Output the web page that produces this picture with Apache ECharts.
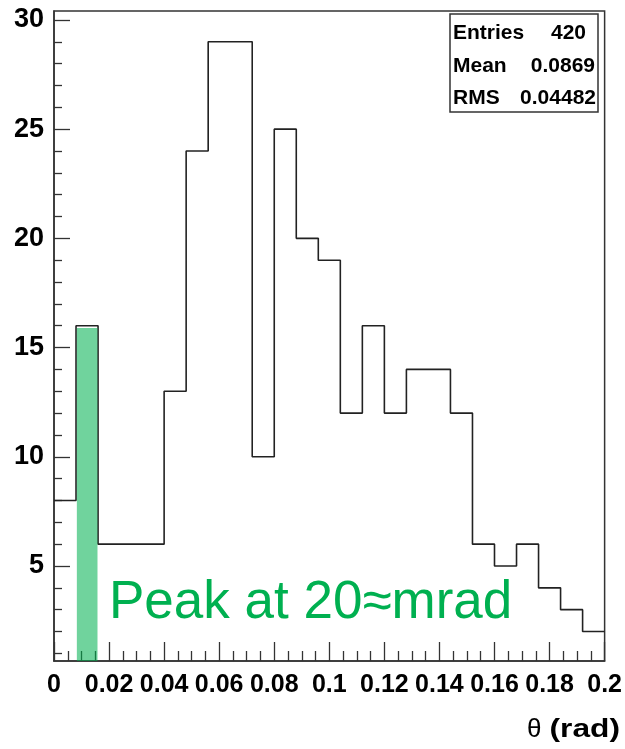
<!DOCTYPE html>
<html>
<head>
<meta charset="utf-8">
<script src="https://cdn.jsdelivr.net/npm/echarts@6/dist/echarts.min.js"></script>
<style>
  html, body { margin: 0; padding: 0; background: #fff; }
  #chart { width: 625px; height: 749px; }
</style>
</head>
<body>
<div id="chart"></div>
<script>
// Histogram of theta: lower bin edges and counts per bin
const binLowEdges = [0.000, 0.008, 0.016, 0.024, 0.032, 0.040, 0.048, 0.056, 0.064, 0.072,
                     0.080, 0.088, 0.096, 0.104, 0.112, 0.120, 0.128, 0.136, 0.144, 0.152,
                     0.160, 0.168, 0.176, 0.184, 0.192];
const histUpperEdge = 0.2;
const counts = [8, 16, 6, 6, 6, 13, 24, 29, 29, 10,
                25, 20, 19, 12, 16, 12, 14, 14, 12, 6,
                5, 6, 4, 3, 2];

// Axis ranges and ticks
const xRange = [0, 0.2];
const yRange = [0.65, 30.41];
const xTickValues = [0, 0.02, 0.04, 0.06, 0.08, 0.1, 0.12, 0.14, 0.16, 0.18, 0.2];
const xTickLabels = ['0', '0.02', '0.04', '0.06', '0.08', '0.1', '0.12', '0.14', '0.16', '0.18', '0.2'];
const yTickValues = [5, 10, 15, 20, 25, 30];
const yTickLabels = ['5', '10', '15', '20', '25', '30'];
const yMinorTickValues = [1, 2, 3, 4, 6, 7, 8, 9, 11, 12, 13, 14, 16, 17, 18, 19,
                          21, 22, 23, 24, 26, 27, 28, 29];

// Highlighted peak band: [x from, x to, height]
const peakBand = [[0.0083, 0.0158, 15.9]];
const peakText = 'Peak at 20\u2248mrad';

// Statistics box rows
const statNames = ['Entries', 'Mean', 'RMS'];
const statValues = ['420', '0.0869', '0.04482'];

const FONT = '"Liberation Sans", Arial, Helvetica, sans-serif';
const INK = '#222';

const stepData = binLowEdges.map((x, i) => [x, counts[i]]);
stepData.push([histUpperEdge, counts[counts.length - 1]]);

const chart = echarts.init(document.getElementById('chart'), null, { renderer: 'canvas' });

const statRowY = [33, 66, 98];
const statValueRight = [586, 595, 596];
const statGraphics = [{
  type: 'rect',
  shape: { x: 450, y: 14, width: 148, height: 98 },
  style: { fill: '#fff', stroke: '#333', lineWidth: 1.5 },
  z: 10
}];
statNames.forEach((name, i) => {
  statGraphics.push({
    type: 'text', x: 453, y: statRowY[i], z: 11,
    style: { text: name, fill: '#000', font: 'bold 21px ' + FONT, verticalAlign: 'middle', align: 'left' }
  });
  statGraphics.push({
    type: 'text', x: statValueRight[i], y: statRowY[i], z: 11,
    style: { text: statValues[i], fill: '#000', font: 'bold 21px ' + FONT, verticalAlign: 'middle', align: 'right' }
  });
});

const option = {
  animation: false,
  backgroundColor: '#fff',
  grid: {
    left: 54, right: 19, top: 11, bottom: 88,
    show: true, borderColor: '#333', borderWidth: 1.5, backgroundColor: 'transparent'
  },
  xAxis: {
    type: 'value',
    min: xRange[0], max: xRange[1], interval: 0.02,
    axisLine: { show: true, onZero: false, lineStyle: { color: '#333', width: 1.5 } },
    axisTick: { show: true, inside: true, length: 19, lineStyle: { color: '#333', width: 1.3 } },
    minorTick: { show: true, splitNumber: 4, length: 10, lineStyle: { color: '#333', width: 1.3 } },
    splitLine: { show: false },
    axisLabel: {
      show: true, margin: 12, color: '#000',
      fontFamily: FONT, fontWeight: 'bold', fontSize: 25,
      formatter: (v) => {
        const k = xTickValues.findIndex(t => Math.abs(t - v) < 1e-9);
        return k >= 0 ? xTickLabels[k] : '';
      }
    }
  },
  yAxis: [{
    type: 'value',
    min: yRange[0], max: yRange[1],
    axisLine: { show: true, onZero: false, lineStyle: { color: '#333', width: 1.5 } },
    axisTick: { show: true, inside: true, length: 16, customValues: yTickValues, lineStyle: { color: '#333', width: 1.3 } },
    splitLine: { show: false },
    axisLabel: {
      show: true, margin: 10, color: '#000',
      fontFamily: FONT, fontWeight: 'bold', fontSize: 27,
      customValues: yTickValues,
      formatter: (v) => {
        const k = yTickValues.findIndex(t => Math.abs(t - v) < 1e-9);
        return k >= 0 ? yTickLabels[k] : '';
      }
    }
  }, {
    type: 'value',
    position: 'left',
    min: yRange[0], max: yRange[1],
    axisLine: { show: false },
    axisTick: { show: true, inside: true, length: 8, customValues: yMinorTickValues, lineStyle: { color: '#333', width: 1.3 } },
    splitLine: { show: false },
    axisLabel: { show: false }
  }],
  series: [{
    type: 'line',
    step: 'end',
    data: stepData,
    symbol: 'none',
    lineStyle: { color: INK, width: 1.6 },
    z: 3
  }, {
    type: 'custom',
    data: peakBand,
    encode: { x: [0, 1], y: 2 },
    z: 4,
    renderItem: (params, api) => {
      const top = api.coord([api.value(0), api.value(2)]);
      const bottom = api.coord([api.value(1), yRange[0]]);
      return {
        type: 'rect',
        shape: { x: top[0], y: top[1], width: bottom[0] - top[0], height: bottom[1] - top[1] },
        style: { fill: 'rgba(0,176,80,0.56)' }
      };
    }
  }],
  graphic: statGraphics.concat([{
    type: 'text', x: 109, y: 603, z: 12,
    style: { text: peakText, fill: '#00b050', font: '53px ' + FONT, verticalAlign: 'middle', align: 'left' }
  }, {
    type: 'text', x: 527, y: 730, z: 12,
    style: { text: '\u03b8', fill: '#000', font: '26px ' + FONT, verticalAlign: 'middle', align: 'left' }
  }, {
    type: 'text', x: 620, y: 730, z: 12, scaleX: 1.22,
    style: { text: '(rad)', fill: '#000', font: 'bold 26px ' + FONT, verticalAlign: 'middle', align: 'right' }
  }])
};

chart.setOption(option);
</script>
</body>
</html>
